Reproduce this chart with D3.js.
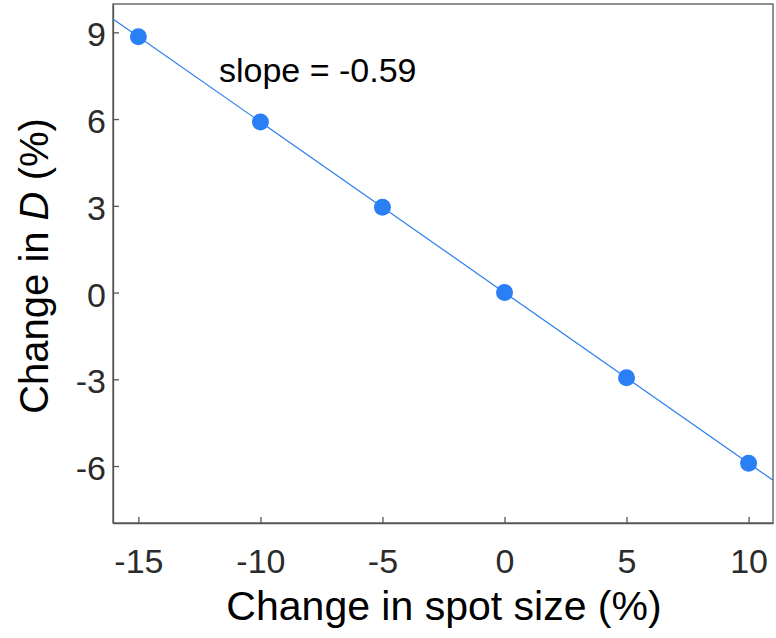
<!DOCTYPE html>
<html><head><meta charset="utf-8">
<script src="https://cdn.jsdelivr.net/npm/d3@7"></script>
<style>body{margin:0;background:#fff}svg{display:block}</style>
</head><body>
<script>
const xValues = [-15, -10, -5, 0, 5, 10];
const yValues = [8.85, 5.9, 2.95, 0, -2.95, -5.9];
const xTicks = [-15, -10, -5, 0, 5, 10];
const yTicks = [-6, -3, 0, 3, 6, 9];
const slope = -0.59;
const xDomain = [-16.04, 11];
const yDomain = [-7.97, 9.98];

const W = 776, H = 638;
const m = {left:113, right:3, top:4, bottom:115};
const svg = d3.select("body").append("svg").attr("width", W).attr("height", H);
const x = d3.scaleLinear().domain(xDomain).range([m.left, W - m.right]);
const y = d3.scaleLinear().domain(yDomain).range([H - m.bottom, m.top]);
const font = "Liberation Sans, Arial, sans-serif";
const axisColor = "#555";
const textColor = "#2b2b2b";

svg.append("rect").attr("x", m.left).attr("y", m.top)
  .attr("width", W - m.right - m.left).attr("height", H - m.bottom - m.top)
  .attr("fill", "none").attr("stroke", axisColor).attr("stroke-width", 1.3);

const fmt = d => String(d);
const xAxis = svg.append("g").attr("transform", `translate(0,${H - m.bottom})`)
  .call(d3.axisBottom(x).tickValues(xTicks).tickFormat(fmt).tickSizeInner(-6).tickSizeOuter(0).tickPadding(26));
const yAxis = svg.append("g").attr("transform", `translate(${m.left},0)`)
  .call(d3.axisLeft(y).tickValues(yTicks).tickFormat(fmt).tickSizeInner(-6).tickSizeOuter(0).tickPadding(7));
[xAxis, yAxis].forEach(a => {
  a.select(".domain").attr("stroke", axisColor).attr("stroke-width", 1.3);
  a.selectAll(".tick line").attr("stroke", axisColor).attr("stroke-width", 1.3);
  a.selectAll(".tick text").attr("fill", textColor).style("font-family", font).style("font-size", "34px");
});
xAxis.selectAll(".tick text").attr("dy", "0.71em");
yAxis.selectAll(".tick text").attr("dy", "0.4em");

svg.append("clipPath").attr("id", "clip").append("rect")
  .attr("x", m.left).attr("y", m.top).attr("width", W - m.right - m.left).attr("height", H - m.bottom - m.top);
svg.append("line").attr("clip-path", "url(#clip)")
  .attr("x1", x(xDomain[0])).attr("y1", y(slope * xDomain[0]))
  .attr("x2", x(xDomain[1])).attr("y2", y(slope * xDomain[1]))
  .attr("stroke", "#2b7ef0").attr("stroke-width", 1.2);

svg.selectAll("circle.pt").data(xValues).enter().append("circle").attr("class", "pt")
  .attr("cx", (d) => x(d)).attr("cy", (d, i) => y(yValues[i])).attr("r", 8.5)
  .attr("fill", "#2b7ff5");

svg.append("text").attr("x", 219).attr("y", 82).attr("fill", "#000")
  .style("font-family", font).style("font-size", "34px").text("slope = " + slope.toFixed(2));

svg.append("text").attr("x", 444).attr("y", 620).attr("text-anchor", "middle")
  .attr("fill", "#000").style("font-family", font).style("font-size", "41px")
  .text("Change in spot size (%)");

const yl = svg.append("text").attr("transform", `translate(48,266) rotate(-90)`)
  .attr("text-anchor", "middle").attr("fill", "#000")
  .style("font-family", font).style("font-size", "40px");
yl.append("tspan").text("Change in ");
yl.append("tspan").style("font-style", "italic").text("D");
yl.append("tspan").text(" (%)");
</script>
</body></html>
